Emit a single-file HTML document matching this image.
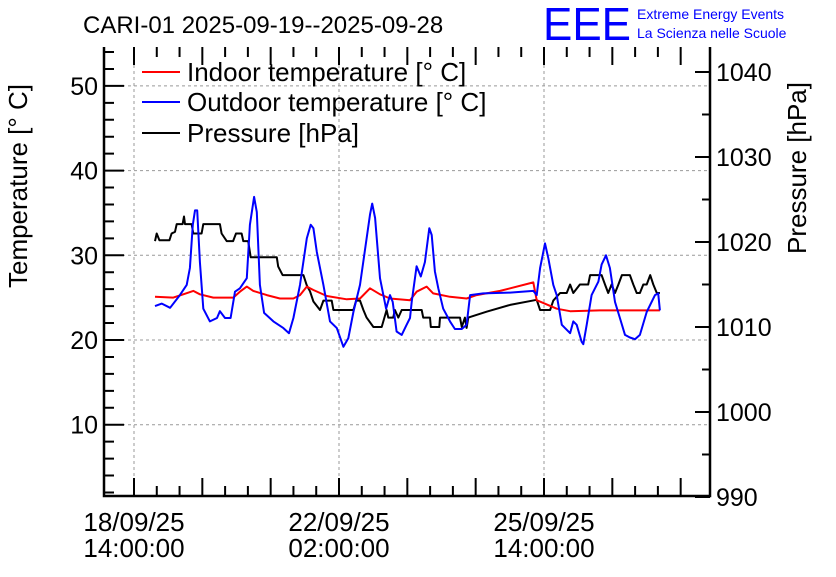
<!DOCTYPE html>
<html><head><meta charset="utf-8"><style>
body{margin:0;background:#fff}
svg text{font-family:"Liberation Sans",sans-serif}
</style></head><body>
<svg id="chart" width="836" height="572" viewBox="0 0 836 572" xmlns="http://www.w3.org/2000/svg">
<rect width="836" height="572" fill="#fff"/>
<text x="83" y="33" font-size="24">CARI-01 2025-09-19--2025-09-28</text>
<g>
<text x="543" y="40" font-size="46" fill="#0000ff" textLength="88" lengthAdjust="spacingAndGlyphs">EEE</text>
<text x="637" y="19" font-size="14" fill="#0000ff">Extreme Energy Events</text>
<text x="637" y="38" font-size="14" fill="#0000ff">La Scienza nelle Scuole</text>
</g>
<g id="grid"></g><g id="axes"></g><g id="series"></g>
<g>
<g><line x1="142" y1="72" x2="180" y2="72" stroke="#ff0000" stroke-width="2"/><text x="187" y="81" font-size="26">Indoor temperature [° C]</text></g>
<g><line x1="142" y1="102" x2="180" y2="102" stroke="#0000ff" stroke-width="2"/><text x="187" y="111" font-size="26">Outdoor temperature [° C]</text></g>
<g><line x1="142" y1="133" x2="180" y2="133" stroke="#000" stroke-width="2"/><text x="187" y="142" font-size="26">Pressure [hPa]</text></g>
</g>
<text transform="translate(27,186) rotate(-90)" text-anchor="middle" font-size="26">Temperature [° C]</text>
<text transform="translate(806,168) rotate(-90)" text-anchor="middle" font-size="26">Pressure [hPa]</text>
</svg>
<script>
const tempTicks=[10,20,30,40,50];
const presTicks=[990,1000,1010,1020,1030,1040];
const xTickHours=[0,84,168];
const xTickLabels=[["18/09/25","14:00:00"],["22/09/25","02:00:00"],["25/09/25","14:00:00"]];
const outdoorHours=[8.6,11.4,14.8,18.8,21.6,22.9,24.1,25.0,25.9,27.0,28.4,31.1,34.0,35.2,37.3,39.6,41.4,43.4,46.2,47.5,49.2,50.3,51.6,53.3,57.1,61.2,63.5,65.3,68.0,70.8,72.4,73.5,74.9,77.6,80.3,83.1,85.8,87.8,89.9,92.6,96.7,97.6,98.8,100.8,103.3,104.9,106.0,107.6,109.7,111.7,113.1,113.8,115.8,117.5,119.2,121.0,122.0,123.3,124.7,126.7,129.5,131.5,134.3,136.3,137.7,143.1,154.1,163.6,165.0,166.4,168.4,169.8,171.8,173.2,175.3,178.7,180.0,181.4,183.4,184.1,185.5,187.5,190.3,191.6,193.4,195.0,197.1,199.1,201.2,203.2,205.3,207.3,210.1,213.5,214.8,215.5];
const outdoorTemp=[24.0,24.3,23.8,25.3,26.5,28.5,33.6,35.3,35.3,29.2,23.7,22.2,22.6,23.4,22.6,22.6,25.7,26.1,27.3,33.6,36.9,35.1,26.5,23.2,22.2,21.4,20.8,22.6,26.5,32.0,33.6,33.2,30.4,26.5,22.2,21.4,19.2,20.2,23.3,26.5,34.8,36.1,34.4,27.3,23.7,25.3,24.5,21.0,20.6,21.8,22.6,24.5,28.7,27.5,29.2,33.2,32.4,28.1,26.1,23.7,22.2,21.3,21.3,21.8,25.3,25.5,25.6,25.8,25.3,28.5,31.4,29.6,26.5,25.3,21.8,20.8,22.2,21.8,19.8,19.5,21.8,25.3,26.9,28.9,30.0,28.5,24.5,22.6,20.6,20.3,20.1,20.6,23.3,25.3,25.5,23.5];
const indoorHours=[8.6,16.1,20.2,24.3,27.0,32.5,40.7,43.4,46.2,48.9,54.4,59.8,65.3,68.0,70.8,73.5,79.0,87.2,92.6,96.7,100.8,104.9,113.1,115.8,119.9,122.6,129.5,136.3,140.4,150.0,163.6,165.0,173.2,178.7,190.9,204.6,215.5];
const indoorTemp=[25.1,25.0,25.4,25.8,25.4,25.0,25.0,25.7,26.3,25.8,25.3,24.9,24.9,25.3,26.3,25.9,25.2,24.8,24.9,26.1,25.4,24.9,24.7,25.7,26.3,25.5,25.1,24.9,25.3,25.8,26.8,24.7,23.7,23.4,23.5,23.5,23.5];
const presHours=[8.6,9.3,10.4,14.5,15.4,16.8,17.5,19.9,20.5,20.9,23.6,24.3,27.7,28.4,35.2,35.9,38.0,40.6,41.8,44.1,44.8,46.8,47.8,58.5,59.1,60.9,69.4,70.8,72.1,73.5,76.2,77.6,81.0,81.7,89.9,91.0,92.6,94.0,95.3,98.1,101.5,103.5,104.2,106.2,106.9,108.3,109.7,113.8,117.9,118.5,121.3,121.6,125.1,125.4,133.6,134.3,135.6,136.3,137.0,144.5,154.1,165.0,166.4,170.5,171.8,174.6,177.3,178.7,180.0,182.7,186.1,186.9,191.6,193.0,194.3,195.7,197.1,198.5,199.9,203.2,204.6,206.0,207.3,208.7,210.1,211.5,212.8,214.2,215.5];
const presValues=[1020.1,1021.0,1020.2,1020.2,1021.0,1021.2,1022.1,1022.1,1023.0,1022.1,1022.1,1021.0,1021.0,1022.1,1022.1,1021.0,1020.1,1020.1,1021.0,1021.0,1020.1,1020.1,1018.2,1018.2,1017.1,1016.1,1016.1,1014.9,1014.2,1013.0,1012.0,1013.1,1013.1,1012.0,1012.0,1013.1,1013.1,1012.0,1011.1,1010.0,1010.0,1012.0,1011.1,1011.1,1012.0,1011.1,1012.0,1012.0,1012.0,1011.1,1011.1,1010.0,1010.0,1011.1,1011.1,1010.0,1011.1,1009.9,1011.1,1011.8,1012.6,1013.2,1012.0,1012.0,1013.1,1014.0,1014.0,1015.0,1014.0,1015.0,1015.0,1016.1,1016.1,1015.0,1014.0,1015.0,1014.0,1015.0,1016.1,1016.1,1015.0,1014.0,1014.0,1015.0,1015.0,1016.1,1015.0,1014.0,1014.0];

const L=104,R=710,T=47,B=496;
const xs=h=>134+h*205/84;
const yT=v=>340-(v-20)*8.47;
const yP=v=>327-(v-1010)*8.5;
const NS="http://www.w3.org/2000/svg";
function mk(tag,attrs,parent){const e=document.createElementNS(NS,tag);for(const k in attrs)e.setAttribute(k,attrs[k]);parent.appendChild(e);return e;}
const grid=document.getElementById('grid'),axes=document.getElementById('axes'),series=document.getElementById('series');
tempTicks.forEach(v=>{const g=mk('line',{x1:L,x2:R,y1:yT(v),y2:yT(v),stroke:'#999','stroke-dasharray':'3,3','stroke-width':1},grid);

});
xTickHours.forEach(h=>{const g=mk('line',{x1:xs(h),x2:xs(h),y1:T,y2:B,stroke:'#999','stroke-dasharray':'3,3','stroke-width':1},grid);

});
const frame=mk('path',{d:`M${L},${T}V${B}H${R}V${T}`,fill:'none',stroke:'#000','stroke-width':2.5},axes);


let d='';
for(let v=2;v<=54;v+=2){const len=v%10===0?20:10;d+=`M${L},${yT(v)}h${len}`;}
for(let v=990;v<=1042;v+=5){const len=v%10===0?15:8;d+=`M${R},${yP(v)}h${-len}`;}
for(let k=0;k<=24;k++){const hr=k*28/3;const maj=k%3===0;const len=maj?18:10;const x=xs(hr);if(x>R-2)continue;d+=`M${x},${B}v${-len}M${x},${T}v${len}`;}
const tk=mk('path',{d:d,stroke:'#000','stroke-width':2,fill:'none'},axes);


tempTicks.forEach(v=>{const t=mk('text',{x:L-6,y:yT(v)+9,'text-anchor':'end','font-size':25},axes);t.textContent=v;

});
presTicks.forEach(v=>{const t=mk('text',{x:R+6,y:yP(v)+9,'font-size':25},axes);t.textContent=v;

});
xTickHours.forEach((h,i)=>{const t=mk('text',{x:xs(h),y:531,'text-anchor':'middle','font-size':26},axes);t.textContent=xTickLabels[i][0];


const t2=mk('text',{x:xs(h),y:557,'text-anchor':'middle','font-size':26},axes);t2.textContent=xTickLabels[i][1];

});
function line(hs,vs,yf,color,name){const pts=hs.map((h,i)=>xs(h).toFixed(1)+','+yf(vs[i]).toFixed(1)).join(' ');
const p=mk('polyline',{points:pts,fill:'none',stroke:color,'stroke-width':2,'stroke-linejoin':'round'},series);

}
line(presHours,presValues,yP,'#000','pressure-line');
line(indoorHours,indoorTemp,yT,'#ff0000','indoor-temperature-line');
line(outdoorHours,outdoorTemp,yT,'#0000ff','outdoor-temperature-line');
</script>
</body></html>
